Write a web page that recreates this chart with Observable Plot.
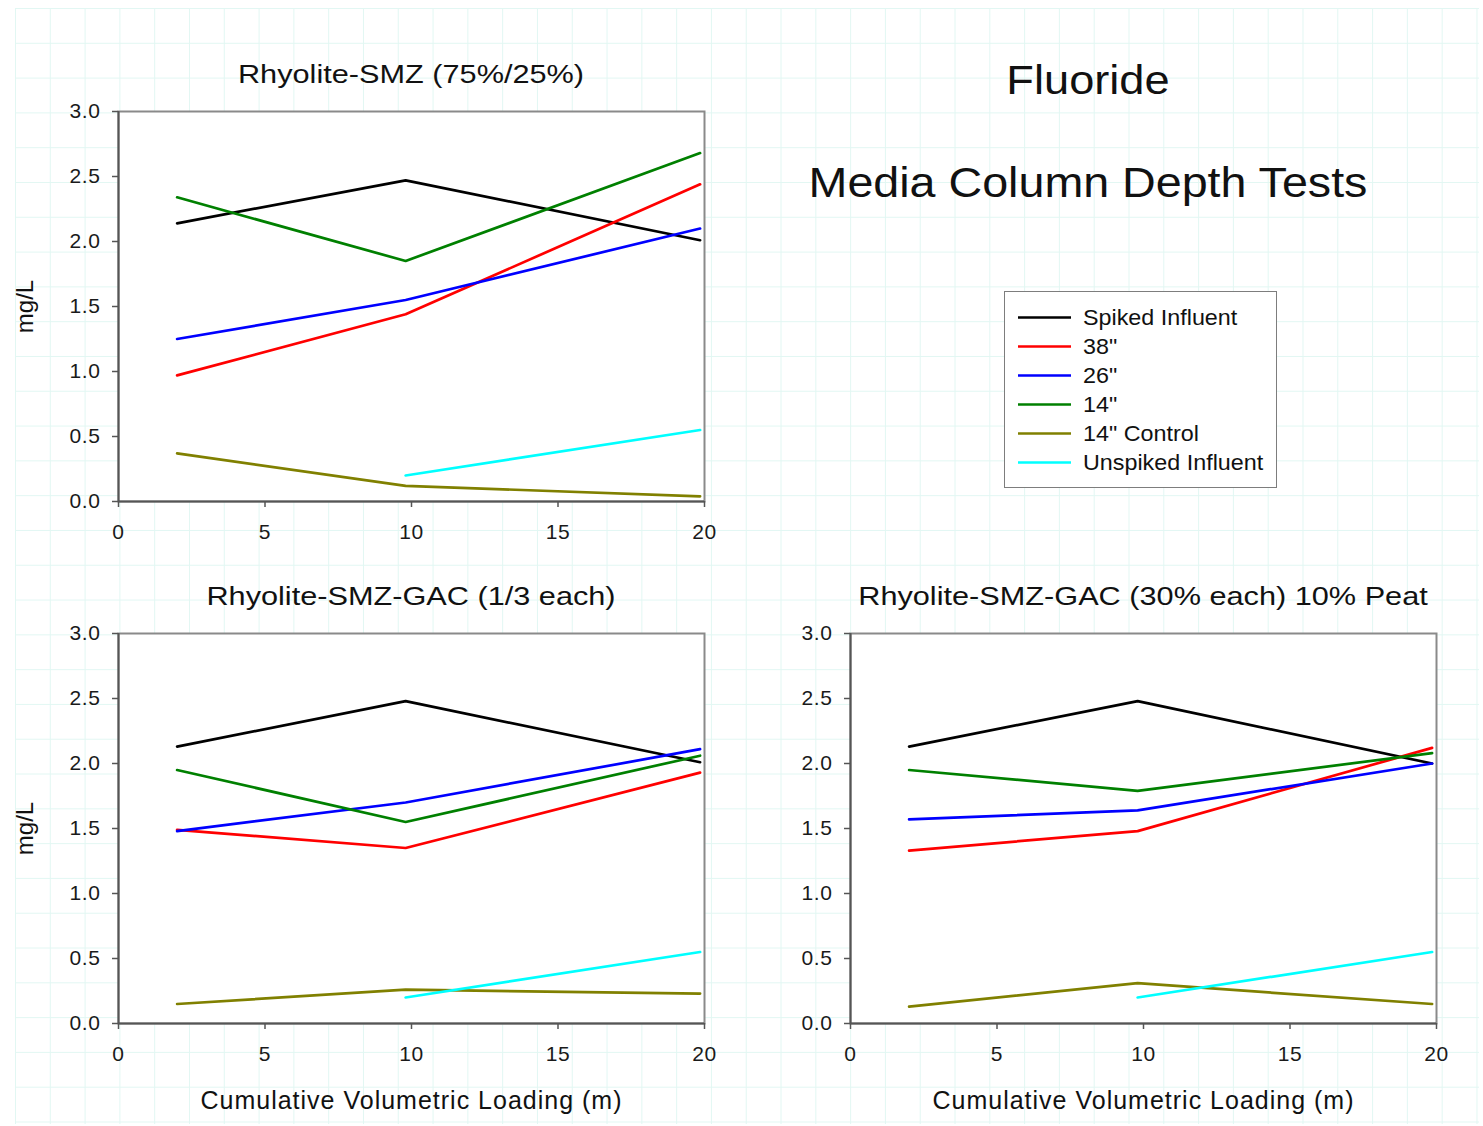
<!DOCTYPE html>
<html>
<head>
<meta charset="utf-8">
<script src="https://cdn.jsdelivr.net/npm/d3@7"></script>
<script src="https://cdn.jsdelivr.net/npm/@observablehq/plot@0.6"></script>
<style>
  html, body { margin: 0; padding: 0; background: #ffffff; }
  body { font-family: "Liberation Sans", Arial, Helvetica, sans-serif; color: #111; }
  #page { position: relative; width: 1483px; height: 1126px; overflow: hidden; background: #fff; }
  #grid {
    position: absolute; left: 15px; top: 8px; width: 1464px; height: 1116px;
    background-image:
      linear-gradient(to right, #e2f7f3 0, #e2f7f3 1.3px, transparent 1.3px),
      linear-gradient(to bottom, #e2f7f3 0, #e2f7f3 1.3px, transparent 1.3px);
    background-size: 34.8px 34.8px;
  }
  .panel { position: absolute; }
  .title {
    position: absolute; white-space: nowrap; line-height: 1;
    transform: translate(-50%, -50%) scaleX(var(--sx, 1));
    color: #111;
  }
  .xlab text { letter-spacing: 1px; }
  .ticklab text { letter-spacing: 0.6px; }
  #legend {
    position: absolute; left: 1004px; top: 291px; width: 271px; height: 195px;
    border: 1.5px solid #7d7d7d; background: #fff;
  }
  .lrow { position: absolute; left: 0; height: 29px; width: 100%; }
  .lrow svg { position: absolute; left: 13px; top: 0; }
  .lrow span {
    position: absolute; left: 78px; top: 50%; white-space: nowrap; line-height: 1;
    font-size: 22px; transform: translateY(-50%) scaleX(1.06); transform-origin: left center; color: #111;
  }
</style>
</head>
<body>
<div id="page">
  <div id="grid"></div>
</div>
<script>
// ---------- data ----------
const seriesNames = ['Spiked Influent', '38"', '26"', '14"', '14" Control', 'Unspiked Influent'];
const seriesColors = ['#000000', '#ff0000', '#0000ff', '#008000', '#808000', '#00ffff'];
const loading = [2, 9.8, 19.85];           // cumulative volumetric loading (m)
const xTicks = [0, 5, 10, 15, 20];
const yTicks = [0, 0.5, 1.0, 1.5, 2.0, 2.5, 3.0];
const panelTitles = ['Rhyolite-SMZ (75%/25%)', 'Rhyolite-SMZ-GAC (1/3 each)', 'Rhyolite-SMZ-GAC (30% each) 10% Peat'];
const mainTitle = 'Fluoride';
const subTitle = 'Media Column Depth Tests';
const yLabel = 'mg/L';
const xLabel = 'Cumulative Volumetric Loading (m)';

// Panel A: Rhyolite-SMZ (75%/25%)
const smzSpiked    = [2.14, 2.47, 2.01];
const smz38        = [0.97, 1.44, 2.44];
const smz26        = [1.25, 1.55, 2.10];
const smz14        = [2.34, 1.85, 2.68];
const smz14Control = [0.37, 0.12, 0.04];
const smzUnspiked  = [null, 0.20, 0.55];

// Panel B: Rhyolite-SMZ-GAC (1/3 each)
const gacSpiked    = [2.13, 2.48, 2.01];
const gac38        = [1.49, 1.35, 1.93];
const gac26        = [1.48, 1.70, 2.11];
const gac14        = [1.95, 1.55, 2.06];
const gac14Control = [0.15, 0.26, 0.23];
const gacUnspiked  = [null, 0.20, 0.55];

// Panel C: Rhyolite-SMZ-GAC (30% each) 10% Peat
const peatSpiked    = [2.13, 2.48, 2.00];
const peat38        = [1.33, 1.48, 2.12];
const peat26        = [1.57, 1.64, 2.00];
const peat14        = [1.95, 1.79, 2.08];
const peat14Control = [0.13, 0.31, 0.15];
const peatUnspiked  = [null, 0.20, 0.55];

// ---------- build ----------
const FONT = '"Liberation Sans", Arial, Helvetica, sans-serif';

function toRows(list) {
  return list.flatMap((vals, i) => vals.map((v, j) => ({series: seriesNames[i], x: loading[j], y: v})));
}

function panel(data, {showYLabel, showXLabel}) {
  return Plot.plot({
    width: 740,
    height: showXLabel ? 511 : 461,
    marginLeft: 118, marginRight: 36, marginTop: 21, marginBottom: showXLabel ? 100 : 50,
    style: {background: "transparent", fontFamily: FONT, fontSize: "21px", color: "#1a1a1a", overflow: "visible"},
    x: {domain: [0, 20]},
    y: {domain: [0, 3]},
    color: {domain: seriesNames, range: seriesColors},
    marks: [
      Plot.frame({fill: "white", stroke: "#8a8a8a", strokeWidth: 2}),
      Plot.line(data, {x: "x", y: "y", z: "series", stroke: "series", strokeWidth: 2.7}),
      Plot.axisX({ticks: xTicks, tickSize: 6, tickPadding: 17, stroke: "#555", strokeWidth: 1.5, label: null, className: "ticklab"}),
      Plot.axisY({ticks: yTicks, tickSize: 6, tickPadding: 12, tickFormat: d3.format(".1f"), stroke: "#555", strokeWidth: 1.5, label: null, className: "ticklab"}),
      Plot.ruleX([0], {stroke: "#555", strokeWidth: 2}),
      Plot.ruleY([0], {stroke: "#555", strokeWidth: 2}),
      showYLabel ? Plot.text([yLabel], {text: d => d, frameAnchor: "left", textAnchor: "middle", lineAnchor: "middle", dx: -93, rotate: -90, fontSize: 24, fill: "#111"}) : null,
      showXLabel ? Plot.text([xLabel], {text: d => d, frameAnchor: "bottom", textAnchor: "middle", lineAnchor: "middle", dy: 77, fontSize: 25, fill: "#111", className: "xlab"}) : null
    ]
  });
}

const page = document.getElementById("page");

function addTitle(text, cx, cy, size, sx) {
  const d = document.createElement("div");
  d.className = "title";
  d.textContent = text;
  d.style.left = cx + "px";
  d.style.top = cy + "px";
  d.style.fontSize = size + "px";
  d.style.setProperty("--sx", sx);
  page.appendChild(d);
}

function addPanel(svg, left, top) {
  const wrap = document.createElement("div");
  wrap.className = "panel";
  wrap.style.left = left + "px";
  wrap.style.top = top + "px";
  wrap.appendChild(svg);
  page.appendChild(wrap);
}

addPanel(panel(toRows([smzSpiked, smz38, smz26, smz14, smz14Control, smzUnspiked]), {showYLabel: true, showXLabel: false}), 0, 90);
addPanel(panel(toRows([gacSpiked, gac38, gac26, gac14, gac14Control, gacUnspiked]), {showYLabel: true, showXLabel: true}), 0, 612);
addPanel(panel(toRows([peatSpiked, peat38, peat26, peat14, peat14Control, peatUnspiked]), {showYLabel: false, showXLabel: true}), 732, 612);

addTitle(panelTitles[0], 411, 74, 26, 1.18);
addTitle(panelTitles[1], 411, 596, 26, 1.18);
addTitle(panelTitles[2], 1143, 596, 26, 1.18);
addTitle(mainTitle, 1088, 80, 40, 1.13);
addTitle(subTitle, 1088, 183, 42, 1.11);

// legend
const legend = document.createElement("div");
legend.id = "legend";
seriesNames.forEach((name, i) => {
  const row = document.createElement("div");
  row.className = "lrow";
  row.style.top = (11 + i * 29) + "px";
  const ns = "http://www.w3.org/2000/svg";
  const s = document.createElementNS(ns, "svg");
  s.setAttribute("width", "54"); s.setAttribute("height", "29");
  const ln = document.createElementNS(ns, "line");
  ln.setAttribute("x1", "0"); ln.setAttribute("x2", "53");
  ln.setAttribute("y1", "14.5"); ln.setAttribute("y2", "14.5");
  ln.setAttribute("stroke", seriesColors[i]); ln.setAttribute("stroke-width", "2.6");
  s.appendChild(ln);
  const t = document.createElement("span");
  t.textContent = name;
  row.appendChild(s); row.appendChild(t);
  legend.appendChild(row);
});
page.appendChild(legend);
</script>
</body>
</html>
